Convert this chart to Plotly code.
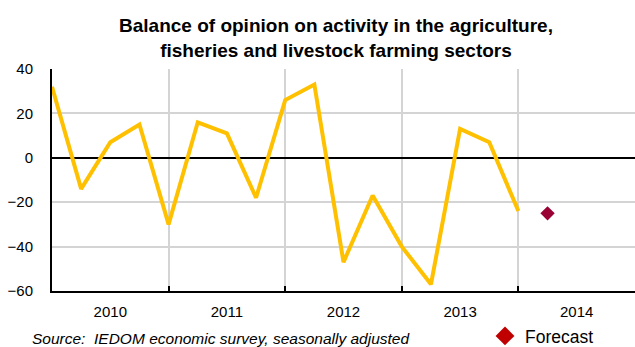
import plotly.graph_objects as go

# Quarterly balance of opinion (2010 Q1 .. 2014 Q1), then forecast
quarter_index = list(range(17))
balance = [32, -14, 7, 15, -30, 16, 11, -18, 26, 33, -47, -17, -40, -57, 13, 7, -24]
forecast_index = [17]
forecast_value = [-25]

year_tick_pos = [2, 6, 10, 14, 18]
year_labels = ["2010", "2011", "2012", "2013", "2014"]
year_bounds = [4, 8, 12, 16]
y_ticks = [-60, -40, -20, 0, 20, 40]

FONT = "Liberation Sans"

def px_x(p):
    return (p - 52) / 583

def px_y(p):
    return (291 - p) / 222

fig = go.Figure()
fig.add_trace(go.Scatter(
    x=quarter_index, y=balance, mode="lines",
    line=dict(color="#FFC000", width=4), showlegend=False, hoverinfo="skip"))
fig.add_trace(go.Scatter(
    x=forecast_index, y=forecast_value, mode="markers",
    marker=dict(symbol="diamond", color="#990033", size=11),
    showlegend=False))
fig.add_trace(go.Scatter(
    x=[None], y=[None], mode="markers", name="Forecast",
    marker=dict(symbol="diamond", color="#C00000", size=14.5),
    showlegend=True))

fig.update_layout(
    width=635, height=347,
    margin=dict(l=52, r=0, t=69, b=56, autoexpand=False),
    paper_bgcolor="white", plot_bgcolor="white",
    font=dict(family=FONT, color="black"),
    title=dict(
        text="<b>Balance of opinion on activity in the agriculture,<br>fisheries and livestock farming sectors</b>",
        x=336 / 635, xanchor="center", xref="container",
        y=1 - 32 / 347, yanchor="top", yref="container",
        font=dict(size=19, family=FONT, color="black")),
    legend=dict(
        x=485 / 635, y=1 - 336 / 347, xref="container", yref="container",
        xanchor="left", yanchor="middle",
        font=dict(size=17.5, family=FONT), bgcolor="rgba(0,0,0,0)"),
    annotations=[dict(
        text="<i>Source:  IEDOM economic survey, seasonally adjusted</i>",
        x=px_x(30), y=px_y(328), xref="paper", yref="paper",
        xanchor="left", yanchor="top", showarrow=False,
        font=dict(size=15.5, family=FONT, color="black"))],
)

fig.update_xaxes(
    range=[0, 20], tickmode="array", tickvals=year_tick_pos, ticktext=year_labels,
    ticks="", showgrid=False, zeroline=False,
    showline=True, linecolor="black", linewidth=2,
    tickfont=dict(size=15, family=FONT), ticklabelstandoff=6,
    minor=dict(tickmode="array", tickvals=year_bounds, showgrid=True,
               gridcolor="#D4D4D4", gridwidth=1.5,
               ticks="inside", ticklen=5, tickcolor="black", tickwidth=2),
    fixedrange=True)
fig.update_yaxes(
    range=[-60, 40], tickmode="array", tickvals=y_ticks,
    showgrid=True, gridcolor="#D4D4D4", gridwidth=1.5,
    zeroline=True, zerolinecolor="black", zerolinewidth=2,
    showline=True, linecolor="black", linewidth=2,
    ticks="", ticklabelstandoff=14,
    tickfont=dict(size=15, family=FONT), fixedrange=True)

fig.write_html("out.html")
